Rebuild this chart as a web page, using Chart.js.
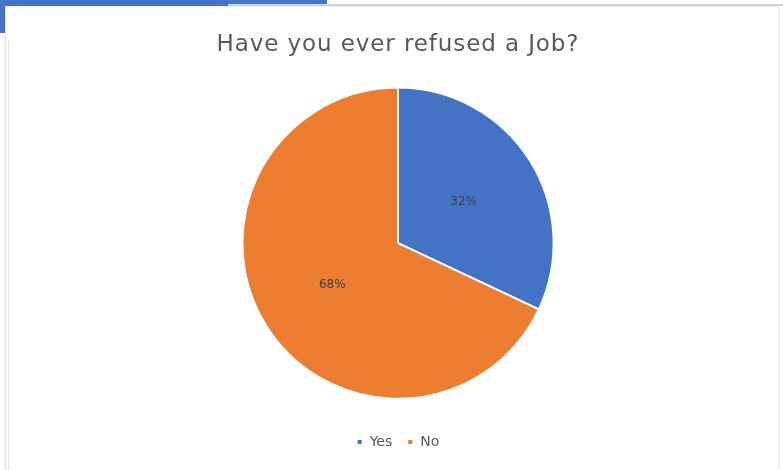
<!DOCTYPE html>
<html lang="en">

<head>
    <meta charset="UTF-8">
    <title>Have you ever refused a Job?</title>
    <script src="https://cdn.jsdelivr.net/npm/chart.js@4.4.1/dist/chart.umd.min.js"></script>
    <style>
        body { margin: 0; background: #fff; overflow: hidden; }
        #tab { position: absolute; left: 0; top: 0; width: 327px; height: 33px; background: #4674c6; }
        #rule { position: absolute; left: 228px; top: 4px; width: 555px; height: 2px; background: #d6d6d6; }
        #frame { position: absolute; left: 5px; top: 6px; width: 772px; height: 470px; background: #fff;
                 border-left: 1px solid #e2e2e2; border-right: 1px solid #ececec; border-top: 1px solid #ececec;
                 box-shadow: 0 0 3px rgba(0,0,0,0.08); }
        #edge { position: absolute; left: 8px; top: 40px; width: 1px; height: 430px; background: #e4e4e4; }
        #wrap { position: absolute; left: 0; top: 0; width: 783px; height: 470px; }
    </style>
</head>

<body>
    <div id="tab"></div>
    <div id="rule"></div>
    <div id="frame"></div>
    <div id="edge"></div>
    <div id="wrap"><canvas id="myChart"></canvas></div>
    <script>
        const answers = ['Yes', 'No'];
        const counts = [32, 68];
        const sliceColors = ['#4472C4', '#ED7D31'];

        // a little extra tracking on the title text only
        const titleTracking = {
            id: 'titleTracking',
            beforeDraw(chart) {
                const tb = chart.titleBlock;
                if (!tb || tb._tracked) return;
                const drawTitle = tb.draw.bind(tb);
                tb.draw = (area) => {
                    chart.ctx.letterSpacing = '0.9px';
                    drawTitle(area);
                    chart.ctx.letterSpacing = '0px';
                };
                tb._tracked = true;
            }
        };

        // percentage text in the middle of each slice
        const sliceLabels = {
            id: 'sliceLabels',
            afterDatasetsDraw(chart) {
                const ctx = chart.ctx;
                const meta = chart.getDatasetMeta(0);
                const total = counts.reduce((a, b) => a + b, 0);
                ctx.save();
                ctx.font = '12px "DejaVu Sans", sans-serif';
                ctx.fillStyle = '#404040';
                ctx.textAlign = 'center';
                ctx.textBaseline = 'middle';
                meta.data.forEach((arc, i) => {
                    const p = arc.tooltipPosition();
                    ctx.fillText(Math.round(counts[i] / total * 100) + '%', p.x, p.y);
                });
                ctx.restore();
            }
        };

        const ctx = document.getElementById('myChart').getContext('2d');
        const myChart = new Chart(ctx, {
            type: 'pie',
            data: {
                labels: answers,
                datasets: [{
                    data: counts,
                    backgroundColor: sliceColors,
                    borderColor: '#ffffff',
                    borderWidth: 2
                }]
            },
            options: {
                responsive: true,
                maintainAspectRatio: false,
                animation: false,
                layout: { padding: { left: 13, top: 0, bottom: 11 } },
                plugins: {
                    title: {
                        display: true,
                        text: 'Have you ever refused a Job?',
                        color: '#595959',
                        font: { family: '"DejaVu Sans", sans-serif', size: 23, weight: 'normal' },
                        padding: { top: 31, bottom: 28 }
                    },
                    legend: {
                        position: 'bottom',
                        // empty title only adds space above the legend row
                        title: { display: true, text: '', font: { size: 1 }, padding: { top: 19, bottom: 0 } },
                        labels: {
                            color: '#595959',
                            font: { family: '"DejaVu Sans", sans-serif', size: 14 },
                            usePointStyle: true,
                            pointStyle: 'rect',
                            boxWidth: 6,
                            boxHeight: 6,
                            padding: 15
                        }
                    },
                    tooltip: { enabled: false }
                }
            },
            plugins: [titleTracking, sliceLabels]
        });
    </script>

</body>

</html>
